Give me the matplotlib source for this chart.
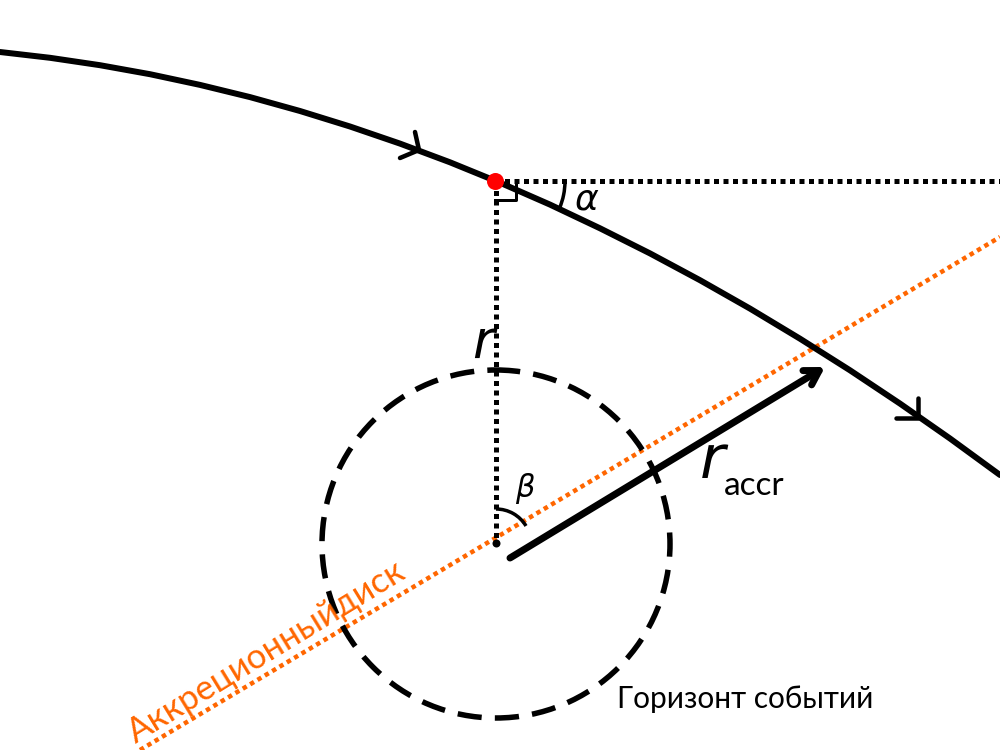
import matplotlib
matplotlib.use("Agg")
import matplotlib.pyplot as plt
from matplotlib.patches import Arc, Circle

# ---- data (pixel coordinates of the reference diagram, y downward) ----
traj_x = [0, 50, 100, 150, 200, 250, 300, 350, 400, 450, 500,
          550, 600, 650, 700, 750, 800, 850, 900, 950, 1000]
traj_y = [52, 57.8, 65.2, 74.2, 84.9, 97.1, 111.0, 126.5, 143.6, 162.3, 182.7,
          204.6, 228.3, 253.4, 280.2, 308.6, 338.7, 370.3, 403.6, 438.5, 475]
chevron_tips = [(419, 150), (918, 418)]
chevron_a = [(415, 132), (918, 398)]
chevron_b = [(400, 158), (896, 418)]
point_xy = (495, 181)
center_xy = (496, 544)
horizon_r = 174
disk_x = [140, 1000]
disk_y = [750, 237]
arrow_start = (510, 558)
arrow_end = (825, 367)
right_angle_x = [495, 516, 516]
right_angle_y = [200, 200, 182]
alpha_arc = (70, 0, 23)        # radius, theta1, theta2
beta_arc = (35, 270, 329)
labels = {
    "alpha": "α",
    "beta": "β",
    "r": "r",
    "r_accr_main": "r",
    "r_accr_sub": "accr",
    "horizon": "Горизонт событий",
    "disk": "Аккреционныйдиск",
}

ORANGE = "#FF6600"

fig = plt.figure(figsize=(10, 7.5), dpi=100)
ax = fig.add_axes([0, 0, 1, 1])
ax.set_xlim(0, 1000)
ax.set_ylim(750, 0)
ax.set_aspect("equal")
ax.axis("off")

px = 0.72  # points per pixel

# accretion disk (orange dotted)
ax.plot(disk_x, disk_y, color=ORANGE, lw=4.5 * px, linestyle=(0, (1, 0.9)),
        dash_capstyle="butt", zorder=2)

# event horizon circle (dashed)
circ = Circle(center_xy, horizon_r, fill=False, edgecolor="black", lw=5.5 * px,
              linestyle=(0, (4.4, 2.4)), zorder=3)
ax.add_patch(circ)

# dotted horizontal and vertical lines
ax.plot([point_xy[0], 1000], [point_xy[1], point_xy[1]], color="black",
        lw=5 * px, linestyle=(0, (1, 0.9)), dash_capstyle="butt", zorder=2)
ax.plot([point_xy[0] + 1, center_xy[0]], [point_xy[1], center_xy[1]], color="black",
        lw=5 * px, linestyle=(0, (1, 0.9)), dash_capstyle="butt", zorder=2)

# trajectory
ax.plot(traj_x, traj_y, color="black", lw=6 * px, solid_capstyle="round",
        solid_joinstyle="round", zorder=4)
for t, a, b in zip(chevron_tips, chevron_a, chevron_b):
    ax.plot([a[0], t[0], b[0]], [a[1], t[1], b[1]], color="black", lw=4.5 * px,
            solid_capstyle="round", solid_joinstyle="round", zorder=4)

# right angle mark
ax.plot(right_angle_x, right_angle_y, color="black", lw=3 * px, zorder=4)

# alpha arc
ax.add_patch(Arc(point_xy, 2 * alpha_arc[0], 2 * alpha_arc[0], theta1=alpha_arc[1],
                 theta2=alpha_arc[2], color="black", lw=3.5 * px, zorder=4))
# beta arc
ax.add_patch(Arc(center_xy, 2 * beta_arc[0], 2 * beta_arc[0], theta1=beta_arc[1],
                 theta2=beta_arc[2], color="black", lw=3.5 * px, zorder=4))

# red point and center dot
ax.plot([point_xy[0]], [point_xy[1]], "o", color="#FF0000", ms=17 * px, mec="none", zorder=6)
ax.plot([center_xy[0]], [center_xy[1] - 1], "o", color="black", ms=8 * px, mec="none", zorder=6)

# r_accr arrow
ax.annotate("", xy=arrow_end, xytext=arrow_start,
            arrowprops=dict(arrowstyle="->,head_length=1.0,head_width=0.6",
                            color="black", lw=7 * px, capstyle="round",
                            joinstyle="round", shrinkA=0, shrinkB=0), zorder=5)

# labels
ax.text(587, 199, labels["alpha"], fontsize=26, style="italic", ha="center",
        va="center", family=["DejaVu Sans"])
ax.text(525, 488, labels["beta"], fontsize=22, style="italic", ha="center",
        va="center", family=["DejaVu Sans"])
ax.text(483, 343, labels["r"], fontsize=38, style="italic", ha="center",
        va="center", family=["DejaVu Sans"])
ax.text(712, 461, labels["r_accr_main"], fontsize=44, style="italic", ha="center",
        va="center", family=["DejaVu Sans"])
ax.text(724, 495, labels["r_accr_sub"], fontsize=24, ha="left", va="baseline",
        family=["Lato", "DejaVu Sans"])
ax.text(617, 708, labels["horizon"], fontsize=21.5, ha="left", va="baseline",
        family=["Lato", "DejaVu Sans"])
ax.text(267, 652, labels["disk"], fontsize=25, color=ORANGE, rotation=31.5,
        rotation_mode="anchor", ha="center", va="center",
        family=["Lato", "DejaVu Sans"])

fig.savefig("out.png", dpi=100)
